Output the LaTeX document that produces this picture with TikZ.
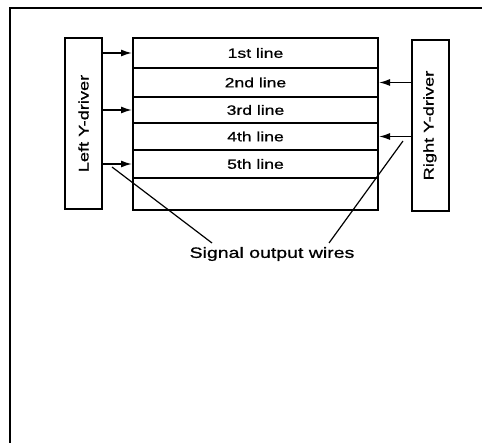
\documentclass[tikz,border=0pt]{standalone}
\usepackage{fontspec}
\setmainfont{Liberation Sans}[FakeStretch=1.3,FakeBold=0.8]
\usetikzlibrary{arrows.meta}
\begin{document}
\begin{tikzpicture}[x=1pt,y=-1pt,
  rowbox/.style={draw, line width=2pt, minimum width=245pt, inner sep=0pt, font=\fontsize{13.5}{14}\selectfont},
  driver/.style={draw, line width=2pt, minimum width=37pt, minimum height=171pt, inner sep=0pt, font=\fontsize{14}{15}\selectfont},
  arr/.style={line width=1.5pt, -{Latex[length=11pt,width=7pt]}},
  wire/.style={line width=1.2pt},
  frameline/.style={line width=2pt}]
\useasboundingbox (0,0) rectangle (482,443);
\draw[frameline] (482,8) -- (10,8) -- (10,443);
% rows of main panel
\node[rowbox, minimum height=30pt] (r1) at (255.5,53) {1st line};
\node[rowbox, minimum height=29pt] (r2) at (255.5,82.5) {2nd line};
\node[rowbox, minimum height=26pt] (r3) at (255.5,110) {3rd line};
\node[rowbox, minimum height=27pt] (r4) at (255.5,136.5) {4th line};
\node[rowbox, minimum height=28pt] (r5) at (255.5,164) {5th line};
\node[rowbox, minimum height=32pt] (r6) at (255.5,194) {};
% drivers
\node[driver] (ld) at (83.5,123.5) {\rotatebox{90}{Left Y-driver}};
\node[driver] (rd) at (430,125.5) {\rotatebox{90}{Right Y-driver}};
% arrows
\draw[arr] (ld.east |- r1) -- (r1.west);
\draw[arr] (ld.east |- r3) -- (r3.west);
\draw[arr] (ld.east |- r5) -- (r5.west);
\draw[arr] (rd.west |- r2) -- (r2.east);
\draw[arr] (rd.west |- r4) -- (r4.east);
% signal output wires
\node[font=\fontsize{15}{16}\selectfont, inner sep=0pt] (sig) at (272,254) {Signal output wires};
\coordinate (wl) at (112,167);
\coordinate (wr) at (403,141);
\coordinate (sl) at (212,243);
\coordinate (sr) at (329,243);
\draw[wire] (wl) -- (sl);
\draw[wire] (wr) -- (sr);
\end{tikzpicture}
\end{document}
